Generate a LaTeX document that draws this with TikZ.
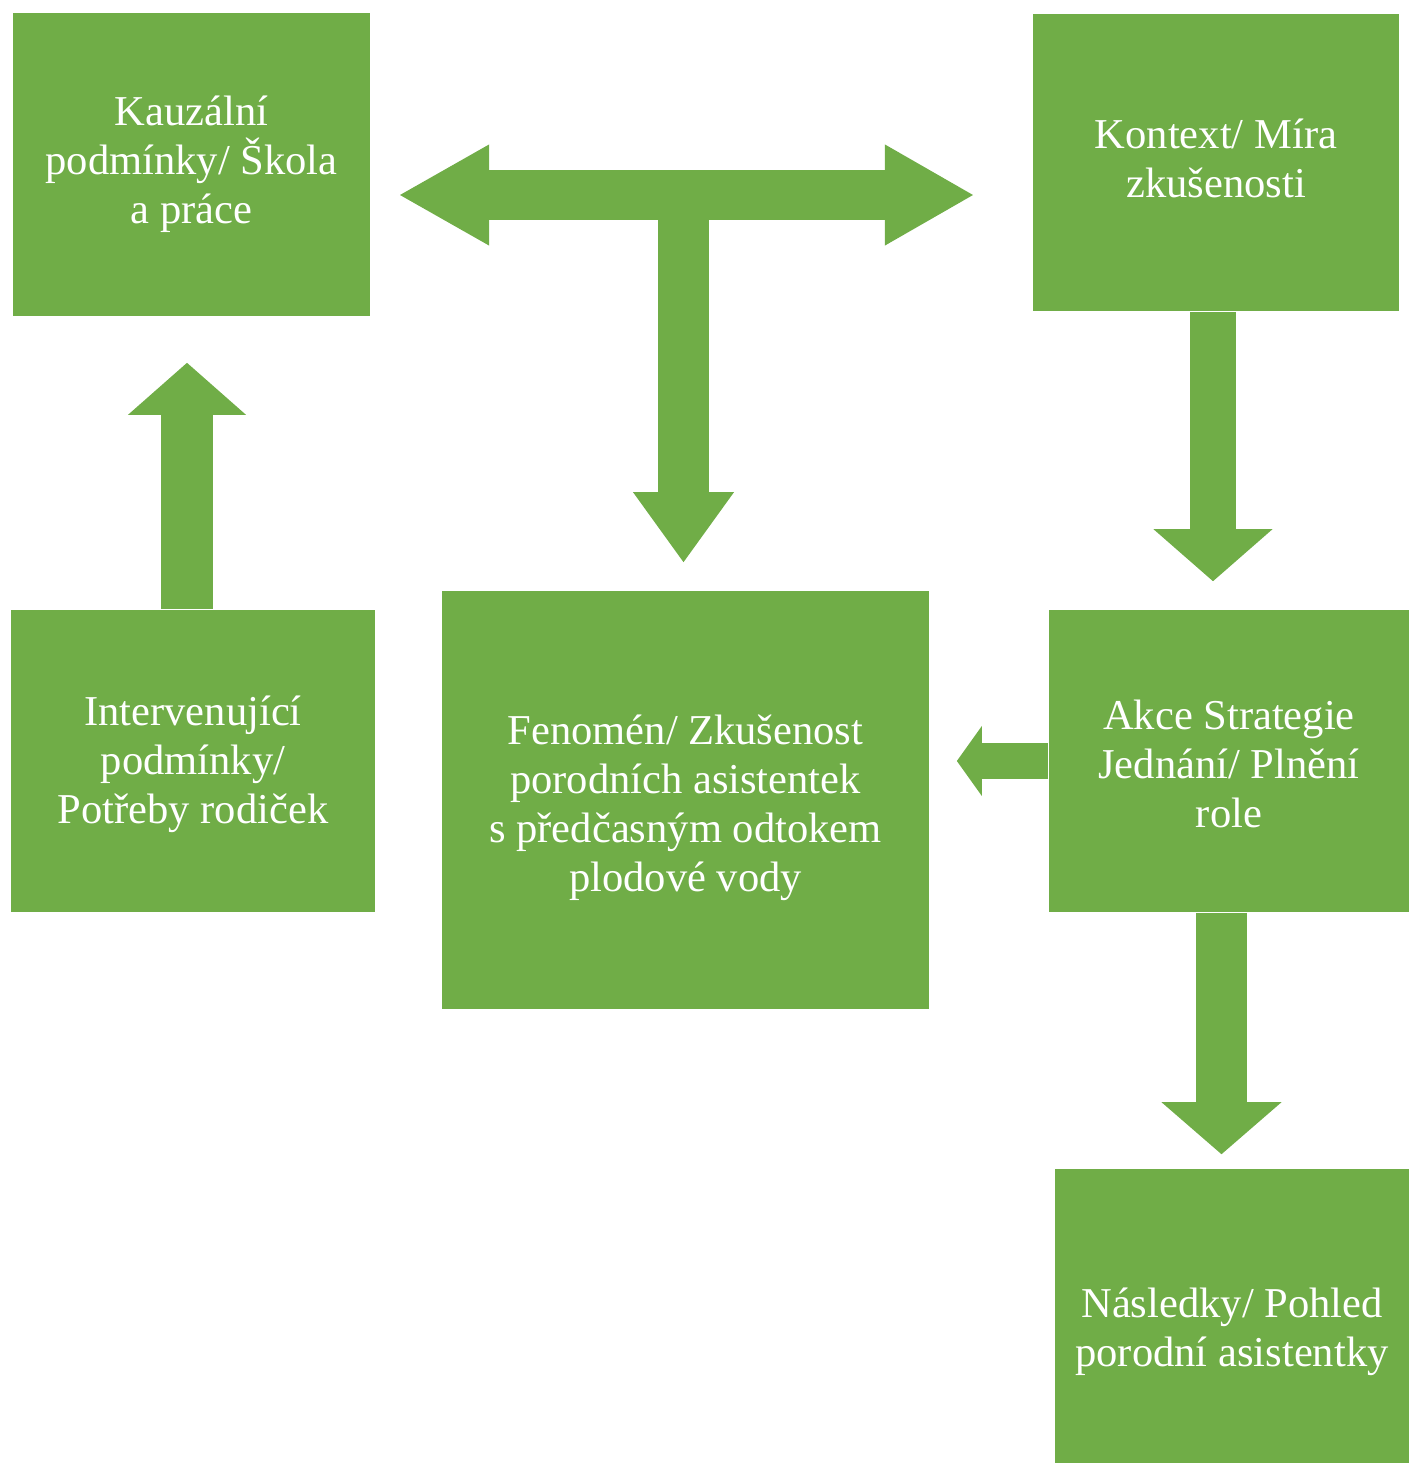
\documentclass[tikz,border=0pt]{standalone}
\usepackage{fontspec}
\setmainfont{Liberation Serif}
\usetikzlibrary{arrows.meta}

\definecolor{kgreen}{HTML}{70AD47}

\tikzset{
  box/.style={fill=kgreen, text=white, align=center, inner sep=0pt,
    font=\fontsize{12.1}{13.9}\selectfont},
  flow/.style n args={3}{draw=kgreen, line width=#1,
    -{Triangle[length=#2, width=#3, line width=0pt]}},
}

\begin{document}
\begin{tikzpicture}[x=0.01cm, y=-0.01cm]
			\useasboundingbox (0,0) rectangle (1409,1463);
			
			% Boxes of the paradigm model
			\node[box, minimum width=3.57cm, minimum height=3.03cm] (kauz) at (191.5,164.5)
			  {Kauzální\\podmínky/ Škola\\a práce};
			\node[box, minimum width=3.66cm, minimum height=2.97cm, text depth=0.08cm] (kontext) at (1216,162.5)
			  {Kontext/ Míra\\zkušenosti};
			\node[box, minimum width=3.64cm, minimum height=3.02cm, text depth=0.03cm] (interv) at (193,761)
			  {Intervenující\\podmínky/\\Potřeby rodiček};
			\node[box, minimum width=4.87cm, minimum height=4.18cm, text depth=0cm, text height=1.83cm] (fen) at (685.5,800)
			  {Fenomén/ Zkušenost\\porodních asistentek\\s předčasným odtokem\\plodové vody};
			\node[box, minimum width=3.60cm, minimum height=3.02cm, text depth=0cm, text height=1.33cm] (akce) at (1229,761)
			  {Akce Strategie\\Jednání/ Plnění\\role};
			\node[box, minimum width=3.54cm, minimum height=2.94cm, text depth=0cm, text height=1.00cm] (nasl) at (1232,1316)
			  {Následky/ Pohled\\porodní asistentky};
			
			% Double arrow between causal conditions and context
			\coordinate (hleft) at (400,195);
			\coordinate (hright) at (973,195);
			\coordinate (tjoin) at (683.5,195);
			\draw[draw=kgreen, line width=0.50cm,
			  {Triangle[length=0.89cm, width=1.01cm, line width=0pt]}-{Triangle[length=0.88cm, width=1.01cm, line width=0pt]}]
			  (hleft) -- (hright);
			
			% Stem of the T down to the phenomenon
			\draw[flow={0.51cm}{0.70cm}{1.01cm}, shorten >=0.28cm] (tjoin) -- (tjoin |- fen.north);
			
			% Intervening conditions up to causal conditions
			\draw[flow={0.52cm}{0.52cm}{1.18cm}, shorten >=0.46cm]
			  ([xshift=-0.06cm]interv.north) -- ([xshift=-0.06cm]interv.north |- kauz.south);
			
			% Context down to actions
			\draw[flow={0.46cm}{0.52cm}{1.19cm}, shorten >=0.28cm]
			  ([xshift=-0.03cm]kontext.south) -- ([xshift=-0.03cm]kontext.south |- akce.north);
			
			% Actions back to the phenomenon
			\draw[flow={0.35cm}{0.25cm}{0.70cm}, shorten >=0.27cm]
			  (akce.west) -- (akce.west -| fen.east);
			
			% Actions down to consequences
			\draw[flow={0.51cm}{0.52cm}{1.20cm}, shorten >=0.14cm]
			  ([xshift=-0.075cm]akce.south) -- ([xshift=-0.075cm]akce.south |- nasl.north);
			
		\end{tikzpicture}
\end{document}
